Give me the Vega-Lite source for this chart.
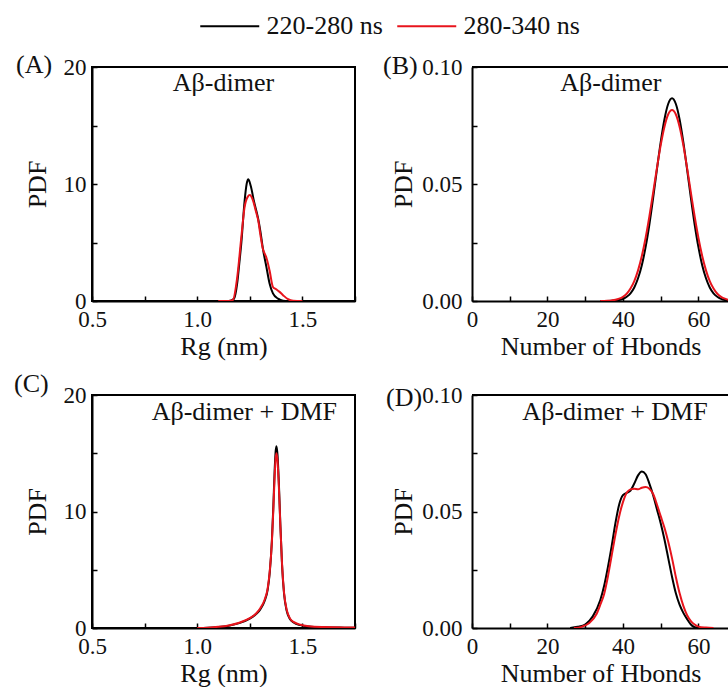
{
  "$schema": "https://vega.github.io/schema/vega-lite/v6.json",
  "background": "white",
  "padding": {"left": 13, "top": 10, "right": 0, "bottom": 0},
  "config": {
    "font": "Liberation Serif",
    "view": {"stroke": "black", "strokeWidth": 2},
    "axis": {
      "domainColor": "black", "domainWidth": 2,
      "tickColor": "black", "tickWidth": 1.5, "tickSize": -5,
      "labelFont": "Liberation Serif", "labelFontSize": 23, "labelColor": "#111",
      "titleFont": "Liberation Serif", "titleFontSize": 26, "titleFontWeight": "normal", "titleColor": "#111",
      "grid": false, "labelFlush": false, "labelOverlap": false
    },
    "axisX": {"labelPadding": 12, "titlePadding": 2},
    "axisY": {"labelPadding": 11, "titlePadding": 13},
    "legend": {
      "orient": "none", "legendX": 121.75, "legendY": -56.75,
      "direction": "horizontal", "title": null,
      "symbolType": "M-2,0H2", "symbolSize": 870, "symbolStrokeWidth": 2,
      "labelFont": "Liberation Serif", "labelFontSize": 26, "labelColor": "#111",
      "labelOffset": 20.75, "columnPadding": 9, "padding": 0
    }
  },
  "datasets": {
    "A": [
      {"s": "220-280 ns", "x": 1.10, "y": 0}, {"s": "220-280 ns", "x": 1.15, "y": 0}, {"s": "220-280 ns", "x": 1.175, "y": 0.2},
      {"s": "220-280 ns", "x": 1.19, "y": 1.5}, {"s": "220-280 ns", "x": 1.20, "y": 3.2}, {"s": "220-280 ns", "x": 1.21, "y": 5.0},
      {"s": "220-280 ns", "x": 1.225, "y": 8.5}, {"s": "220-280 ns", "x": 1.235, "y": 10.0}, {"s": "220-280 ns", "x": 1.243, "y": 10.4},
      {"s": "220-280 ns", "x": 1.255, "y": 9.8}, {"s": "220-280 ns", "x": 1.27, "y": 8.5}, {"s": "220-280 ns", "x": 1.289, "y": 7.1},
      {"s": "220-280 ns", "x": 1.30, "y": 6.0}, {"s": "220-280 ns", "x": 1.313, "y": 4.4}, {"s": "220-280 ns", "x": 1.329, "y": 2.9},
      {"s": "220-280 ns", "x": 1.344, "y": 1.5}, {"s": "220-280 ns", "x": 1.36, "y": 0.65}, {"s": "220-280 ns", "x": 1.384, "y": 0.2},
      {"s": "220-280 ns", "x": 1.408, "y": 0.02}, {"s": "220-280 ns", "x": 1.43, "y": 0}, {"s": "220-280 ns", "x": 1.5, "y": 0},
      {"s": "280-340 ns", "x": 1.10, "y": 0}, {"s": "280-340 ns", "x": 1.15, "y": 0}, {"s": "280-340 ns", "x": 1.17, "y": 0.1},
      {"s": "280-340 ns", "x": 1.19, "y": 2.0}, {"s": "280-340 ns", "x": 1.21, "y": 5.5}, {"s": "280-340 ns", "x": 1.225, "y": 8.0},
      {"s": "280-340 ns", "x": 1.24, "y": 8.9}, {"s": "280-340 ns", "x": 1.25, "y": 9.05}, {"s": "280-340 ns", "x": 1.265, "y": 8.6},
      {"s": "280-340 ns", "x": 1.28, "y": 7.6}, {"s": "280-340 ns", "x": 1.29, "y": 6.9}, {"s": "280-340 ns", "x": 1.30, "y": 5.7},
      {"s": "280-340 ns", "x": 1.313, "y": 4.4}, {"s": "280-340 ns", "x": 1.322, "y": 4.0}, {"s": "280-340 ns", "x": 1.329, "y": 3.7},
      {"s": "280-340 ns", "x": 1.344, "y": 2.6}, {"s": "280-340 ns", "x": 1.36, "y": 1.2}, {"s": "280-340 ns", "x": 1.375, "y": 1.0},
      {"s": "280-340 ns", "x": 1.39, "y": 0.8}, {"s": "280-340 ns", "x": 1.408, "y": 0.5}, {"s": "280-340 ns", "x": 1.432, "y": 0.15},
      {"s": "280-340 ns", "x": 1.456, "y": 0.02}, {"s": "280-340 ns", "x": 1.5, "y": 0}
    ],
    "B": [
      {"s": "220-280 ns", "x": 34, "y": 0}, {"s": "220-280 ns", "x": 37, "y": 0.0001}, {"s": "220-280 ns", "x": 38, "y": 0.0002},
      {"s": "220-280 ns", "x": 39, "y": 0.0004}, {"s": "220-280 ns", "x": 40, "y": 0.0009}, {"s": "220-280 ns", "x": 41, "y": 0.0018},
      {"s": "220-280 ns", "x": 42, "y": 0.0033}, {"s": "220-280 ns", "x": 43, "y": 0.0058}, {"s": "220-280 ns", "x": 44, "y": 0.0097},
      {"s": "220-280 ns", "x": 45, "y": 0.0153}, {"s": "220-280 ns", "x": 46, "y": 0.0230}, {"s": "220-280 ns", "x": 47, "y": 0.0327},
      {"s": "220-280 ns", "x": 48, "y": 0.0441}, {"s": "220-280 ns", "x": 49, "y": 0.0562}, {"s": "220-280 ns", "x": 50, "y": 0.0679},
      {"s": "220-280 ns", "x": 51, "y": 0.0777}, {"s": "220-280 ns", "x": 52, "y": 0.0843}, {"s": "220-280 ns", "x": 53, "y": 0.0866},
      {"s": "220-280 ns", "x": 54, "y": 0.0843}, {"s": "220-280 ns", "x": 55, "y": 0.0777}, {"s": "220-280 ns", "x": 56, "y": 0.0679},
      {"s": "220-280 ns", "x": 57, "y": 0.0562}, {"s": "220-280 ns", "x": 58, "y": 0.0441}, {"s": "220-280 ns", "x": 59, "y": 0.0327},
      {"s": "220-280 ns", "x": 60, "y": 0.0230}, {"s": "220-280 ns", "x": 61, "y": 0.0153}, {"s": "220-280 ns", "x": 62, "y": 0.0097},
      {"s": "220-280 ns", "x": 63, "y": 0.0058}, {"s": "220-280 ns", "x": 64, "y": 0.0033}, {"s": "220-280 ns", "x": 65, "y": 0.0018},
      {"s": "220-280 ns", "x": 66, "y": 0.0009}, {"s": "220-280 ns", "x": 67, "y": 0.0004}, {"s": "220-280 ns", "x": 68, "y": 0.0002},
      {"s": "220-280 ns", "x": 69, "y": 0.0001}, {"s": "220-280 ns", "x": 70, "y": 0},
      {"s": "280-340 ns", "x": 34, "y": 0}, {"s": "280-340 ns", "x": 35, "y": 0}, {"s": "280-340 ns", "x": 36, "y": 0.0001},
      {"s": "280-340 ns", "x": 37, "y": 0.00025}, {"s": "280-340 ns", "x": 38, "y": 0.0005}, {"s": "280-340 ns", "x": 39, "y": 0.0010},
      {"s": "280-340 ns", "x": 40, "y": 0.0018}, {"s": "280-340 ns", "x": 41, "y": 0.0031}, {"s": "280-340 ns", "x": 42, "y": 0.0053},
      {"s": "280-340 ns", "x": 43, "y": 0.0085}, {"s": "280-340 ns", "x": 44, "y": 0.0131}, {"s": "280-340 ns", "x": 45, "y": 0.0192},
      {"s": "280-340 ns", "x": 46, "y": 0.0269}, {"s": "280-340 ns", "x": 47, "y": 0.0361}, {"s": "280-340 ns", "x": 48, "y": 0.0463},
      {"s": "280-340 ns", "x": 49, "y": 0.0568}, {"s": "280-340 ns", "x": 50, "y": 0.0666}, {"s": "280-340 ns", "x": 51, "y": 0.0745},
      {"s": "280-340 ns", "x": 52, "y": 0.0798}, {"s": "280-340 ns", "x": 53, "y": 0.0816}, {"s": "280-340 ns", "x": 54, "y": 0.0798},
      {"s": "280-340 ns", "x": 55, "y": 0.0745}, {"s": "280-340 ns", "x": 56, "y": 0.0666}, {"s": "280-340 ns", "x": 57, "y": 0.0568},
      {"s": "280-340 ns", "x": 58, "y": 0.0463}, {"s": "280-340 ns", "x": 59, "y": 0.0361}, {"s": "280-340 ns", "x": 60, "y": 0.0269},
      {"s": "280-340 ns", "x": 61, "y": 0.0192}, {"s": "280-340 ns", "x": 62, "y": 0.0131}, {"s": "280-340 ns", "x": 63, "y": 0.0085},
      {"s": "280-340 ns", "x": 64, "y": 0.0053}, {"s": "280-340 ns", "x": 65, "y": 0.0031}, {"s": "280-340 ns", "x": 66, "y": 0.0018},
      {"s": "280-340 ns", "x": 67, "y": 0.0010}, {"s": "280-340 ns", "x": 68, "y": 0.0005}, {"s": "280-340 ns", "x": 69, "y": 0.00025},
      {"s": "280-340 ns", "x": 70, "y": 0.0001}
    ],
    "C": [
      {"s": "220-280 ns", "x": 1.0, "y": 0}, {"s": "220-280 ns", "x": 1.05, "y": 0.02}, {"s": "220-280 ns", "x": 1.1, "y": 0.08},
      {"s": "220-280 ns", "x": 1.15, "y": 0.2}, {"s": "220-280 ns", "x": 1.2, "y": 0.42}, {"s": "220-280 ns", "x": 1.25, "y": 0.8},
      {"s": "220-280 ns", "x": 1.28, "y": 1.2}, {"s": "220-280 ns", "x": 1.3, "y": 1.6}, {"s": "220-280 ns", "x": 1.32, "y": 2.3},
      {"s": "220-280 ns", "x": 1.335, "y": 3.3}, {"s": "220-280 ns", "x": 1.345, "y": 4.8}, {"s": "220-280 ns", "x": 1.355, "y": 7.5},
      {"s": "220-280 ns", "x": 1.362, "y": 10.5}, {"s": "220-280 ns", "x": 1.368, "y": 13.5}, {"s": "220-280 ns", "x": 1.373, "y": 15.2},
      {"s": "220-280 ns", "x": 1.377, "y": 15.6}, {"s": "220-280 ns", "x": 1.382, "y": 14.8}, {"s": "220-280 ns", "x": 1.388, "y": 12.5},
      {"s": "220-280 ns", "x": 1.395, "y": 9.0}, {"s": "220-280 ns", "x": 1.403, "y": 5.5}, {"s": "220-280 ns", "x": 1.413, "y": 2.9},
      {"s": "220-280 ns", "x": 1.425, "y": 1.5}, {"s": "220-280 ns", "x": 1.44, "y": 0.8}, {"s": "220-280 ns", "x": 1.46, "y": 0.45},
      {"s": "220-280 ns", "x": 1.49, "y": 0.25}, {"s": "220-280 ns", "x": 1.53, "y": 0.13}, {"s": "220-280 ns", "x": 1.6, "y": 0.06},
      {"s": "220-280 ns", "x": 1.7, "y": 0.03}, {"s": "220-280 ns", "x": 1.75, "y": 0.02},
      {"s": "280-340 ns", "x": 1.0, "y": 0}, {"s": "280-340 ns", "x": 1.05, "y": 0.03}, {"s": "280-340 ns", "x": 1.1, "y": 0.1},
      {"s": "280-340 ns", "x": 1.15, "y": 0.22}, {"s": "280-340 ns", "x": 1.2, "y": 0.45}, {"s": "280-340 ns", "x": 1.25, "y": 0.85},
      {"s": "280-340 ns", "x": 1.28, "y": 1.25}, {"s": "280-340 ns", "x": 1.3, "y": 1.7}, {"s": "280-340 ns", "x": 1.32, "y": 2.4},
      {"s": "280-340 ns", "x": 1.335, "y": 3.4}, {"s": "280-340 ns", "x": 1.345, "y": 4.9}, {"s": "280-340 ns", "x": 1.355, "y": 7.4},
      {"s": "280-340 ns", "x": 1.362, "y": 10.2}, {"s": "280-340 ns", "x": 1.368, "y": 13.0}, {"s": "280-340 ns", "x": 1.373, "y": 14.6},
      {"s": "280-340 ns", "x": 1.377, "y": 15.0}, {"s": "280-340 ns", "x": 1.382, "y": 14.3}, {"s": "280-340 ns", "x": 1.388, "y": 12.2},
      {"s": "280-340 ns", "x": 1.395, "y": 8.9}, {"s": "280-340 ns", "x": 1.403, "y": 5.6}, {"s": "280-340 ns", "x": 1.413, "y": 3.0},
      {"s": "280-340 ns", "x": 1.425, "y": 1.6}, {"s": "280-340 ns", "x": 1.44, "y": 0.85}, {"s": "280-340 ns", "x": 1.46, "y": 0.5},
      {"s": "280-340 ns", "x": 1.49, "y": 0.28}, {"s": "280-340 ns", "x": 1.53, "y": 0.15}, {"s": "280-340 ns", "x": 1.6, "y": 0.08},
      {"s": "280-340 ns", "x": 1.7, "y": 0.05}, {"s": "280-340 ns", "x": 1.75, "y": 0.05}
    ],
    "D": [
      {"s": "220-280 ns", "x": 26, "y": 0}, {"s": "220-280 ns", "x": 28, "y": 0.0005}, {"s": "220-280 ns", "x": 30, "y": 0.0015},
      {"s": "220-280 ns", "x": 32, "y": 0.005}, {"s": "220-280 ns", "x": 34, "y": 0.012}, {"s": "220-280 ns", "x": 35, "y": 0.018},
      {"s": "220-280 ns", "x": 36, "y": 0.026}, {"s": "220-280 ns", "x": 37, "y": 0.035}, {"s": "220-280 ns", "x": 38, "y": 0.045},
      {"s": "220-280 ns", "x": 39, "y": 0.053}, {"s": "220-280 ns", "x": 40, "y": 0.057}, {"s": "220-280 ns", "x": 41, "y": 0.058},
      {"s": "220-280 ns", "x": 42, "y": 0.059}, {"s": "220-280 ns", "x": 43, "y": 0.062}, {"s": "220-280 ns", "x": 44, "y": 0.0655},
      {"s": "220-280 ns", "x": 45, "y": 0.0672}, {"s": "220-280 ns", "x": 46, "y": 0.066}, {"s": "220-280 ns", "x": 47, "y": 0.062},
      {"s": "220-280 ns", "x": 48, "y": 0.057}, {"s": "220-280 ns", "x": 49, "y": 0.051}, {"s": "220-280 ns", "x": 50, "y": 0.045},
      {"s": "220-280 ns", "x": 51, "y": 0.038}, {"s": "220-280 ns", "x": 52, "y": 0.030}, {"s": "220-280 ns", "x": 53, "y": 0.022},
      {"s": "220-280 ns", "x": 54, "y": 0.015}, {"s": "220-280 ns", "x": 55, "y": 0.010}, {"s": "220-280 ns", "x": 56, "y": 0.0065},
      {"s": "220-280 ns", "x": 57, "y": 0.0038}, {"s": "220-280 ns", "x": 58, "y": 0.0015}, {"s": "220-280 ns", "x": 59, "y": 0.0003},
      {"s": "220-280 ns", "x": 60, "y": 0},
      {"s": "280-340 ns", "x": 27, "y": 0}, {"s": "280-340 ns", "x": 29, "y": 0.0005}, {"s": "280-340 ns", "x": 31, "y": 0.002},
      {"s": "280-340 ns", "x": 33, "y": 0.006}, {"s": "280-340 ns", "x": 34, "y": 0.010}, {"s": "280-340 ns", "x": 35, "y": 0.0145},
      {"s": "280-340 ns", "x": 36, "y": 0.022}, {"s": "280-340 ns", "x": 37, "y": 0.031}, {"s": "280-340 ns", "x": 38, "y": 0.040},
      {"s": "280-340 ns", "x": 39, "y": 0.048}, {"s": "280-340 ns", "x": 40, "y": 0.054}, {"s": "280-340 ns", "x": 41, "y": 0.058},
      {"s": "280-340 ns", "x": 42, "y": 0.0595}, {"s": "280-340 ns", "x": 43, "y": 0.0598}, {"s": "280-340 ns", "x": 44, "y": 0.0595},
      {"s": "280-340 ns", "x": 45, "y": 0.0602}, {"s": "280-340 ns", "x": 46, "y": 0.0605}, {"s": "280-340 ns", "x": 47, "y": 0.0598},
      {"s": "280-340 ns", "x": 48, "y": 0.0575}, {"s": "280-340 ns", "x": 49, "y": 0.053}, {"s": "280-340 ns", "x": 50, "y": 0.048},
      {"s": "280-340 ns", "x": 51, "y": 0.043}, {"s": "280-340 ns", "x": 52, "y": 0.037}, {"s": "280-340 ns", "x": 53, "y": 0.030},
      {"s": "280-340 ns", "x": 54, "y": 0.022}, {"s": "280-340 ns", "x": 55, "y": 0.015}, {"s": "280-340 ns", "x": 56, "y": 0.0095},
      {"s": "280-340 ns", "x": 57, "y": 0.0055}, {"s": "280-340 ns", "x": 58, "y": 0.003}, {"s": "280-340 ns", "x": 59, "y": 0.0015},
      {"s": "280-340 ns", "x": 60, "y": 0.0006}, {"s": "280-340 ns", "x": 62, "y": 0.0002}, {"s": "280-340 ns", "x": 64, "y": 0}
    ]
  },
  "columns": 2,
  "bounds": "flush",
  "align": "all",
  "spacing": {"row": 94, "column": 117},
  "concat": [
    {
      "width": 263, "height": 234,
      "layer": [
        {
          "data": {"name": "A"},
          "mark": {"type": "line", "strokeWidth": 2, "interpolate": "monotone", "clip": true},
          "encoding": {
            "x": {"field": "x", "type": "quantitative", "scale": {"domain": [0.5, 1.75], "nice": false, "zero": false},
                  "axis": {"title": "Rg (nm)", "values": [0.5, 0.75, 1, 1.25, 1.5, 1.75],
                           "labelExpr": "datum.value == 0.5 || datum.value == 1 || datum.value == 1.5 ? format(datum.value, '.1f') : ''"}},
            "y": {"field": "y", "type": "quantitative", "scale": {"domain": [0, 20], "nice": false},
                  "axis": {"title": "PDF", "values": [0, 5, 10, 15, 20],
                           "labelExpr": "datum.value % 10 == 0 ? datum.label : ''"}},
            "color": {"field": "s", "type": "nominal", "scale": {"domain": ["220-280 ns", "280-340 ns"], "range": ["#000000", "#e8141c"]}}
          }
        },
        {
          "data": {"values": [{"t": "Aβ-dimer"}]},
          "mark": {"type": "text", "fontSize": 26, "font": "Liberation Serif", "color": "#111", "baseline": "middle"},
          "encoding": {"x": {"datum": 1.125}, "y": {"datum": 18.6}, "text": {"field": "t"}}
        },
        {
          "data": {"values": [{"t": "(A)"}]},
          "mark": {"type": "text", "fontSize": 26, "font": "Liberation Serif", "color": "#111", "align": "left", "baseline": "middle", "dx": -76, "dy": -2},
          "encoding": {"x": {"datum": 0.5}, "y": {"datum": 20}, "text": {"field": "t"}}
        }
      ]
    },
    {
      "width": 257, "height": 234,
      "view": {"stroke": null},
      "layer": [
        {
          "data": {"name": "B"},
          "mark": {"type": "line", "strokeWidth": 2, "interpolate": "monotone", "clip": true},
          "encoding": {
            "x": {"field": "x", "type": "quantitative", "scale": {"domain": [0, 68.1], "nice": false, "zero": false},
                  "axis": {"title": "Number of Hbonds", "values": [0, 10, 20, 30, 40, 50, 60],
                           "labelExpr": "datum.value % 20 == 0 ? datum.label : ''"}},
            "y": {"field": "y", "type": "quantitative", "scale": {"domain": [0, 0.1], "nice": false},
                  "axis": {"title": "PDF", "values": [0, 0.025, 0.05, 0.075, 0.1], "labelPadding": 15, "titlePadding": 5,
                           "labelExpr": "datum.value == 0 || datum.value == 0.05 || datum.value == 0.1 ? format(datum.value, '.2f') : ''"}},
            "color": {"field": "s", "type": "nominal"}
          }
        },
        {
          "data": {"values": [{}]},
          "mark": {"type": "rule", "stroke": "black", "strokeWidth": 2},
          "encoding": {"y": {"datum": 0.1}}
        },
        {
          "data": {"values": [{"t": "Aβ-dimer"}]},
          "mark": {"type": "text", "fontSize": 26, "font": "Liberation Serif", "color": "#111", "baseline": "middle"},
          "encoding": {"x": {"datum": 36.8}, "y": {"datum": 0.0932}, "text": {"field": "t"}}
        },
        {
          "data": {"values": [{"t": "(B)"}]},
          "mark": {"type": "text", "fontSize": 26, "font": "Liberation Serif", "color": "#111", "align": "left", "baseline": "middle", "dx": -89, "dy": -1},
          "encoding": {"x": {"datum": 0}, "y": {"datum": 0.1}, "text": {"field": "t"}}
        }
      ]
    },
    {
      "width": 263, "height": 233,
      "layer": [
        {
          "data": {"name": "C"},
          "mark": {"type": "line", "strokeWidth": 2, "interpolate": "monotone", "clip": true},
          "encoding": {
            "x": {"field": "x", "type": "quantitative", "scale": {"domain": [0.5, 1.75], "nice": false, "zero": false},
                  "axis": {"title": "Rg (nm)", "values": [0.5, 0.75, 1, 1.25, 1.5, 1.75],
                           "labelExpr": "datum.value == 0.5 || datum.value == 1 || datum.value == 1.5 ? format(datum.value, '.1f') : ''"}},
            "y": {"field": "y", "type": "quantitative", "scale": {"domain": [0, 20], "nice": false},
                  "axis": {"title": "PDF", "values": [0, 5, 10, 15, 20],
                           "labelExpr": "datum.value % 10 == 0 ? datum.label : ''"}},
            "color": {"field": "s", "type": "nominal"}
          }
        },
        {
          "data": {"values": [{"t": "Aβ-dimer + DMF"}]},
          "mark": {"type": "text", "fontSize": 26, "font": "Liberation Serif", "color": "#111", "baseline": "middle"},
          "encoding": {"x": {"datum": 1.224}, "y": {"datum": 18.5}, "text": {"field": "t"}}
        },
        {
          "data": {"values": [{"t": "(C)"}]},
          "mark": {"type": "text", "fontSize": 26, "font": "Liberation Serif", "color": "#111", "align": "left", "baseline": "middle", "dx": -78, "dy": -11},
          "encoding": {"x": {"datum": 0.5}, "y": {"datum": 20}, "text": {"field": "t"}}
        }
      ]
    },
    {
      "width": 257, "height": 233,
      "view": {"stroke": null},
      "layer": [
        {
          "data": {"name": "D"},
          "mark": {"type": "line", "strokeWidth": 2, "interpolate": "monotone", "clip": true},
          "encoding": {
            "x": {"field": "x", "type": "quantitative", "scale": {"domain": [0, 68.1], "nice": false, "zero": false},
                  "axis": {"title": "Number of Hbonds", "values": [0, 10, 20, 30, 40, 50, 60],
                           "labelExpr": "datum.value % 20 == 0 ? datum.label : ''"}},
            "y": {"field": "y", "type": "quantitative", "scale": {"domain": [0, 0.1], "nice": false},
                  "axis": {"title": "PDF", "values": [0, 0.025, 0.05, 0.075, 0.1], "labelPadding": 15, "titlePadding": 5,
                           "labelExpr": "datum.value == 0 || datum.value == 0.05 || datum.value == 0.1 ? format(datum.value, '.2f') : ''"}},
            "color": {"field": "s", "type": "nominal"}
          }
        },
        {
          "data": {"values": [{}]},
          "mark": {"type": "rule", "stroke": "black", "strokeWidth": 2},
          "encoding": {"y": {"datum": 0.1}}
        },
        {
          "data": {"values": [{"t": "Aβ-dimer + DMF"}]},
          "mark": {"type": "text", "fontSize": 26, "font": "Liberation Serif", "color": "#111", "baseline": "middle"},
          "encoding": {"x": {"datum": 37.9}, "y": {"datum": 0.0927}, "text": {"field": "t"}}
        },
        {
          "data": {"values": [{"t": "(D)"}]},
          "mark": {"type": "text", "fontSize": 26, "font": "Liberation Serif", "color": "#111", "align": "left", "baseline": "middle", "dx": -86, "dy": 3},
          "encoding": {"x": {"datum": 0}, "y": {"datum": 0.1}, "text": {"field": "t"}}
        }
      ]
    }
  ]
}
